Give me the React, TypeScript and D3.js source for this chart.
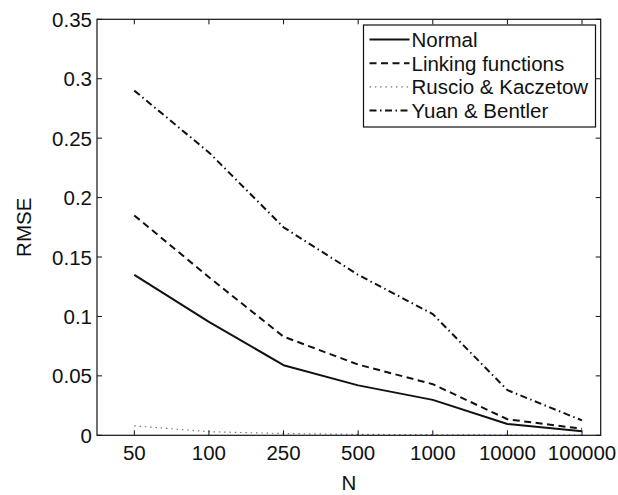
import React from "react";
import * as d3 from "d3";

const categories = ["50", "100", "250", "500", "1000", "10000", "100000"];
const normal = [0.135, 0.0955, 0.059, 0.042, 0.0298, 0.0095, 0.0034];
const linking = [0.185, 0.133, 0.083, 0.0595, 0.043, 0.0135, 0.0055];
const ruscio = [0.008, 0.003, 0.0015, 0.0008, 0.0005, 0.0002, 0.0001];
const yuan = [0.29, 0.238, 0.175, 0.135, 0.102, 0.038, 0.0125];
const yTicks = [0, 0.05, 0.1, 0.15, 0.2, 0.25, 0.3, 0.35];
const yTickLabels = ["0", "0.05", "0.1", "0.15", "0.2", "0.25", "0.3", "0.35"];
const seriesNames = ["Normal", "Linking functions", "Ruscio & Kaczetow", "Yuan & Bentler"];

const W = 618, H = 495;
const L = 97, R = 600.7, T = 19.3, B = 435.3;
const FONT = "'Liberation Sans', Arial, Helvetica, sans-serif";
const FS = 20.5;

const styles = [
  { color: "#111", width: 2, dash: undefined as string | undefined },
  { color: "#111", width: 2, dash: "7,4.5" },
  { color: "#777", width: 1.2, dash: "1.5,3.8" },
  { color: "#111", width: 2, dash: "7,3.5,1.5,3.5" },
];

export default function App() {
  const x = d3.scaleLinear().domain([0.5, 7.25]).range([L, R]);
  const y = d3.scaleLinear().domain([0, 0.35]).range([B, T]);
  const line = d3
    .line<number>()
    .x((_, i) => x(i + 1))
    .y((d) => y(d));
  const data = [normal, linking, ruscio, yuan];
  const tick = 5;
  const legX = 363.5, legY = 25, legW = 232, legRow = 23.7;
  return (
    <svg
      width={W}
      height={H}
      style={{ position: "absolute", left: 0, top: 0, background: "#fff" }}
      fontFamily={FONT}
    >
      <rect x={0} y={0} width={W} height={H} fill="#fff" />
      {data.map((d, k) => (
        <path
          key={k}
          d={line(d) || ""}
          fill="none"
          stroke={styles[k].color}
          strokeWidth={styles[k].width}
          strokeDasharray={styles[k].dash}
          strokeLinejoin="round"
        />
      ))}
      {/* box */}
      <rect x={L} y={T} width={R - L} height={B - T} fill="none" stroke="#111" strokeWidth={1.2} />
      {/* x ticks */}
      {categories.map((c, i) => (
        <g key={c}>
          <line x1={x(i + 1)} x2={x(i + 1)} y1={B} y2={B - tick} stroke="#111" strokeWidth={1} />
          <line x1={x(i + 1)} x2={x(i + 1)} y1={T} y2={T + tick} stroke="#111" strokeWidth={1} />
          <text x={x(i + 1)} y={B + 25} textAnchor="middle" fontSize={FS} fill="#111">
            {c}
          </text>
        </g>
      ))}
      {/* y ticks */}
      {yTicks.map((t, i) => (
        <g key={t}>
          <line x1={L} x2={L + tick} y1={y(t)} y2={y(t)} stroke="#111" strokeWidth={1} />
          <line x1={R} x2={R - tick} y1={y(t)} y2={y(t)} stroke="#111" strokeWidth={1} />
          <text x={L - 5} y={y(t) + 7.5} textAnchor="end" fontSize={FS} fill="#111">
            {yTickLabels[i]}
          </text>
        </g>
      ))}
      <text x={(L + R) / 2} y={H - 5} textAnchor="middle" fontSize={FS} fill="#111">
        N
      </text>
      <text
        transform={`translate(31,${(T + B) / 2}) rotate(-90)`}
        textAnchor="middle"
        fontSize={FS}
        fill="#111"
      >
        RMSE
      </text>
      {/* legend */}
      <rect
        x={legX}
        y={legY}
        width={legW}
        height={102}
        fill="#fff"
        stroke="#111"
        strokeWidth={1.2}
      />
      {seriesNames.map((n, k) => {
        const cy = legY + 14.5 + k * legRow;
        return (
          <g key={n}>
            <line
              x1={legX + 6}
              x2={legX + 46}
              y1={cy}
              y2={cy}
              stroke={styles[k].color}
              strokeWidth={styles[k].width}
              strokeDasharray={styles[k].dash}
            />
            <text x={legX + 48} y={cy + 7.5} fontSize={FS} fill="#111">
              {n}
            </text>
          </g>
        );
      })}
    </svg>
  );
}
